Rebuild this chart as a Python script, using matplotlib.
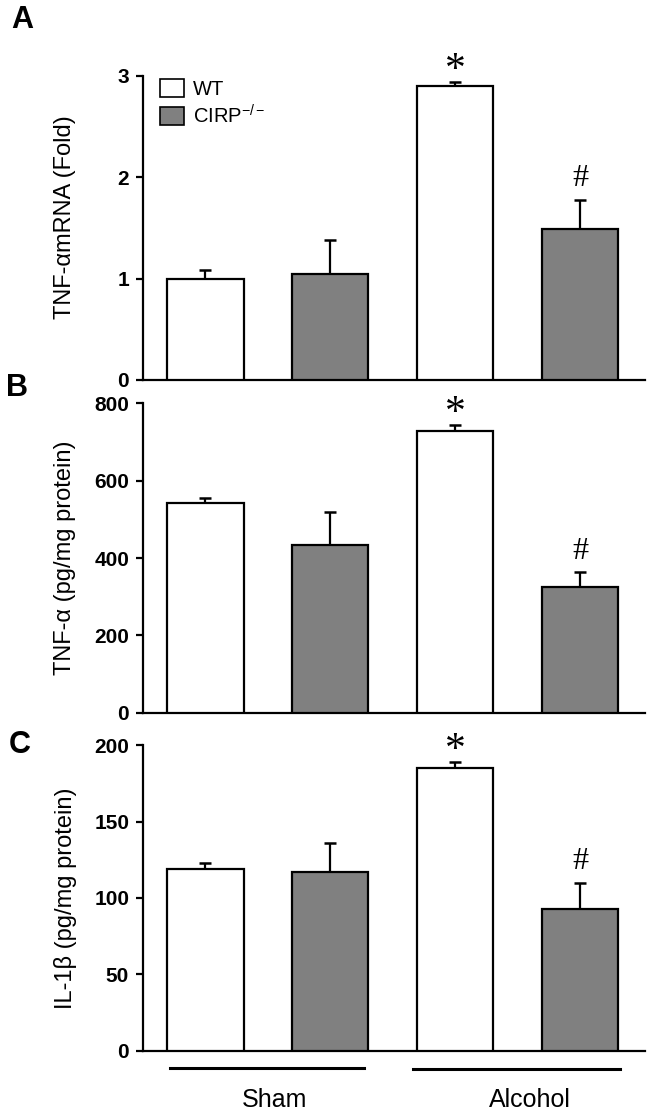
import matplotlib
matplotlib.use('Agg')
import matplotlib.pyplot as plt
import matplotlib.transforms as mtransforms
from matplotlib.patches import Patch
import numpy as np

plt.rcParams['font.family'] = ['Liberation Sans', 'DejaVu Sans']
plt.rcParams['mathtext.fontset'] = 'custom'
plt.rcParams['mathtext.rm'] = 'Liberation Sans'
plt.rcParams['mathtext.it'] = 'Liberation Sans'

# bars: Sham WT, Sham CIRP-/-, Alcohol WT, Alcohol CIRP-/-
groups = ['Sham', 'Alcohol']
genotypes = ['WT', 'CIRP$^{-/-}$']

tnf_mrna = [1.00, 1.05, 2.90, 1.49]
tnf_mrna_err = [0.09, 0.33, 0.04, 0.29]

tnf_protein = [542, 434, 728, 325]
tnf_protein_err = [13, 85, 15, 39]

il1b = [119, 117, 185, 93]
il1b_err = [4, 19, 4, 17]

# significance marks: (bar index, symbol)
marks = [(2, '*'), (3, '#')]

panels = [
    ('A', tnf_mrna, tnf_mrna_err, [0, 1, 2, 3], 'TNF-αmRNA (Fold)'),
    ('B', tnf_protein, tnf_protein_err, [0, 200, 400, 600, 800], 'TNF-α (pg/mg protein)'),
    ('C', il1b, il1b_err, [0, 50, 100, 150, 200], 'IL-1β (pg/mg protein)'),
]

# axes rectangles (fig fraction)
rects = [
    [0.2154, 0.6589, 0.756, 0.2729],
    [0.2154, 0.3600, 0.756, 0.2782],
    [0.2154, 0.0566, 0.756, 0.2746],
]
letter_pos = [(0.034, 0.982), (0.026, 0.652), (0.030, 0.331)]
label_y = [0.535, 0.5, 0.5]

colors = ['white', '#808080', 'white', '#808080']

fig = plt.figure(figsize=(6.64, 11.14), dpi=100)

x = np.arange(4)
for i, (letter, vals, errs, ticks, ylabel) in enumerate(panels):
    ax = fig.add_axes(rects[i])
    bars = ax.bar(x, vals, width=0.61, color=colors, edgecolor='black',
                  linewidth=1.6, zorder=3)
    ax.errorbar(x, vals, yerr=[np.zeros(4), errs], fmt='none', ecolor='black',
                elinewidth=1.6, capsize=4.6, capthick=1.8, zorder=2)
    ax.set_xlim(-0.5, 3.52)
    ax.set_ylim(0, ticks[-1])
    ax.set_yticks(ticks)
    ax.set_yticklabels([str(t) for t in ticks], fontweight='bold', fontsize=15)
    ax.set_xticks([])
    for s in ['top', 'right']:
        ax.spines[s].set_visible(False)
    for s in ['left', 'bottom']:
        ax.spines[s].set_linewidth(1.6)
    ax.tick_params(axis='y', length=5, width=1.6, pad=5)
    ax.set_ylabel(ylabel, fontsize=17, va='center')
    ax.yaxis.set_label_coords(-0.155, label_y[i])

    for idx, sym in marks:
        top = vals[idx] + errs[idx]
        if sym == '*':
            ax.annotate(sym, (x[idx], top), xytext=(0, -6), textcoords='offset points',
                        ha='center', va='bottom', fontsize=30, family='Liberation Serif')
        else:
            ax.annotate(sym, (x[idx], top), xytext=(0, 4.5), textcoords='offset points',
                        ha='center', va='bottom', fontsize=23, family='Liberation Serif')

    fig.text(letter_pos[i][0], letter_pos[i][1], letter, fontsize=22,
             fontweight='bold', ha='center', va='center')

    if i == 0:
        handles = [Patch(facecolor='white', edgecolor='black', linewidth=1.2),
                   Patch(facecolor='#808080', edgecolor='black', linewidth=1.2)]
        ax.legend(handles, genotypes, loc='upper left', bbox_to_anchor=(0.01, 1.03),
                  frameon=False, fontsize=14.5, handlelength=1.2, handleheight=1.0,
                  handletextpad=0.45, labelspacing=0.25, borderpad=0.1)

    if i == 2:
        trans = mtransforms.blended_transform_factory(ax.transData, ax.transAxes)
        ax.plot([-0.28, 1.27], [-0.056, -0.056], color='black', lw=2.2,
                transform=trans, clip_on=False)
        ax.plot([1.66, 3.32], [-0.058, -0.058], color='black', lw=2.2,
                transform=trans, clip_on=False)
        ax.text(0.55, -0.16, groups[0], transform=trans, ha='center', va='center',
                fontsize=18)
        ax.text(2.60, -0.16, groups[1], transform=trans, ha='center', va='center',
                fontsize=18)

fig.savefig('out.png', dpi=100)
